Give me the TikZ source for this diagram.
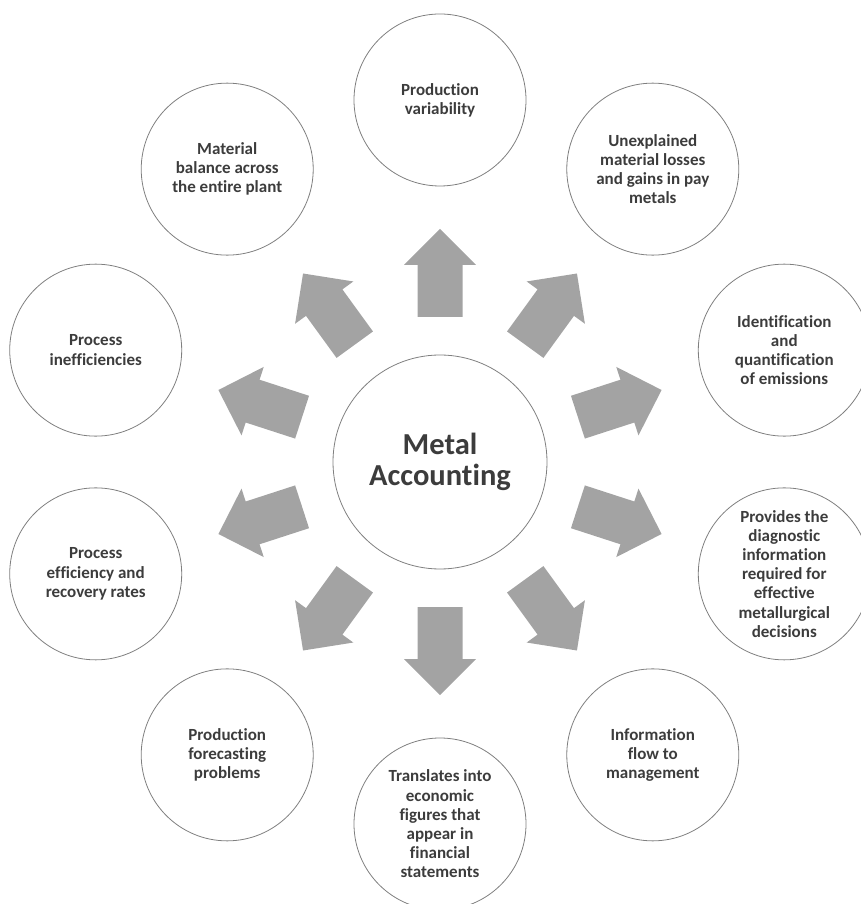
\documentclass[tikz,border=0pt]{standalone}
\usepackage{fontspec}
\setmainfont{Carlito}[Ligatures=NoCommon]
\usepackage{tikz}
\usetikzlibrary{positioning}

\definecolor{txtgray}{HTML}{3C3C3C}
\definecolor{ringgray}{HTML}{7F7F7F}
\definecolor{arrowgray}{HTML}{A3A3A3}

\tikzset{
    topic/.style={circle, draw=ringgray, line width=0.8pt, minimum size=172pt, inner sep=0pt,
        align=center, text=txtgray, font=\bfseries\fontsize{17}{19.2}\selectfont},
    hub/.style={topic, minimum size=214pt, font=\bfseries\fontsize{30.5}{31}\selectfont},
    blockarrow/.style={fill=arrowgray}
}

\begin{document}
\begin{tikzpicture}[x=1pt, y=1pt]
    \useasboundingbox (-440,-442) rectangle (420,462);

    \node[hub] (metal) at (0,0) {Metal\\Accounting};

    \node[topic] (variability) at (90:362) {Production\\variability};
    \node[topic] (losses) at (54:362) {Unexplained\\material losses\\and gains in pay\\metals};
    \node[topic] (emissions) at (18:362) {Identification\\and\\quantification\\of emissions};
    \node[topic] (diagnostic) at (-18:362) {Provides the\\diagnostic\\information\\required for\\effective\\metallurgical\\decisions};
    \node[topic] (infoflow) at (-54:362) {Information\\flow to\\management};
    \node[topic] (economic) at (-90:362) {Translates into\\economic\\figures that\\appear in\\financial\\statements};
    \node[topic] (forecasting) at (-126:362) {Production\\forecasting\\problems};
    \node[topic] (efficiency) at (-162:362) {Process\\efficiency and\\recovery rates};
    \node[topic] (inefficiency) at (162:362) {Process\\inefficiencies};
    \node[topic] (balance) at (126:362) {Material\\balance across\\the entire plant};

    % block arrows out of the hub
    \foreach \ang in {90,54,18,-18,-54,-90,-126,-162,162,126}
        \fill[blockarrow, shift={(metal.center)}, rotate=\ang]
            (145,-22.5) -- (197,-22.5) -- (197,-36) -- (233,0) -- (197,36) -- (197,22.5) -- (145,22.5) -- cycle;
\end{tikzpicture}
\end{document}
